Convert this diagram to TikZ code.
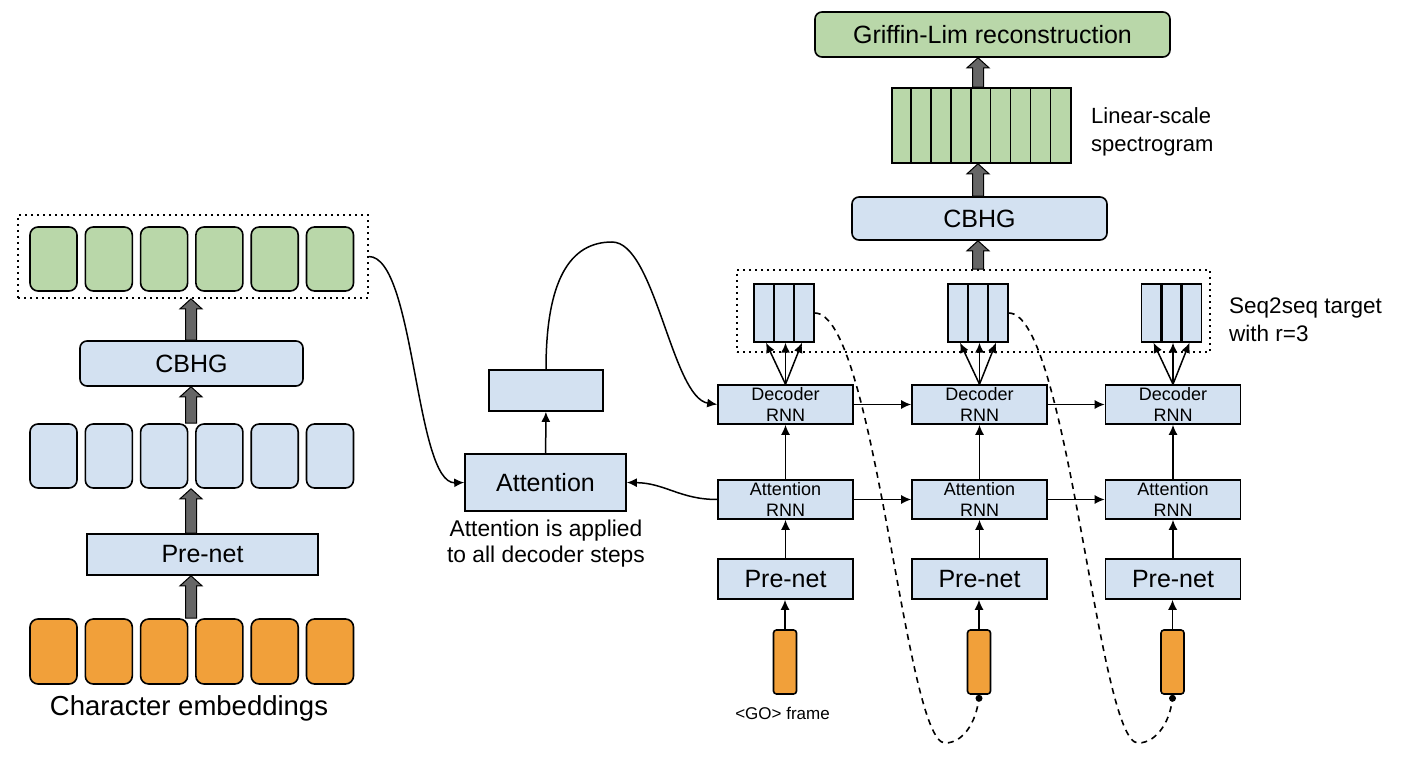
\documentclass[tikz,border=0pt]{standalone}
\usepackage{fontspec}
\setmainfont{Liberation Sans}
\usetikzlibrary{arrows.meta,calc}
\definecolor{bluefill}{HTML}{D3E1F1}
\definecolor{greenfill}{HTML}{B9D7A9}
\definecolor{orangefill}{HTML}{F1A03A}
\definecolor{arrowgray}{HTML}{666666}
\newcommand\fatarrow[2]{\filldraw[fatarr] let \p1=(#1), \p2=(#2) in
  (\x1-5.5pt,\y1) -- (\x1-5.5pt,\y2-10pt) -- (\x1-11pt,\y2-10pt) -- (\x1,\y2) --
  (\x1+11pt,\y2-10pt) -- (\x1+5.5pt,\y2-10pt) -- (\x1+5.5pt,\y1) -- cycle;}
\begin{document}
\begin{tikzpicture}[x=1pt,y=-1pt,
  lw/.style={line width=1.6pt},
  bbox/.style={draw=black, line width=1.6pt, fill=bluefill, inner sep=0pt},
  rbox/.style={bbox, rounded corners=7pt},
  gbox/.style={bbox, fill=greenfill, rounded corners=8pt, minimum width=47pt, minimum height=64pt},
  ebox/.style={bbox, rounded corners=8pt, minimum width=47pt, minimum height=64pt},
  obox/.style={bbox, fill=orangefill, rounded corners=8pt, minimum width=47pt, minimum height=65pt},
  goframe/.style={bbox, fill=orangefill, rounded corners=3pt, minimum width=23pt, minimum height=64pt},
  rnn/.style={bbox, minimum width=135pt, minimum height=39pt, font=\fontsize{18}{21}\selectfont, align=center},
  prenet/.style={bbox, minimum width=135pt, minimum height=40pt, font=\fontsize{25}{30}\selectfont},
  seqbox/.style={bbox, line width=1.4pt, minimum width=60pt, minimum height=58pt},
  dotbox/.style={draw=black, line width=1.7pt, dash pattern=on 1.7pt off 4.3pt, inner sep=0pt},
  conn/.style={line width=1.5pt, -{Latex[length=10pt,width=9pt]}},
  fatarr/.style={fill=arrowgray, draw=black, line width=1pt},
  bigtext/.style={font=\fontsize{25}{30}\selectfont},
]
\useasboundingbox (0,0) rectangle (1406,762);

% ---------------- Encoder (left) ----------------
\node[dotbox, minimum width=350pt, minimum height=83pt] (encout) at (193,256.5) {};
\foreach \i in {0,...,5} {
  \node[gbox] (g\i) at ({53.5+55.3*\i},259) {};
  \node[ebox] (e\i) at ({53.5+55.3*\i},456) {};
  \node[obox] (o\i) at ({53.5+55.3*\i},651.5) {};
}
\node[rbox, minimum width=223pt, minimum height=45pt, bigtext] (cbhgL) at (191.5,363.5) {CBHG};
\node[bbox, minimum width=231pt, minimum height=41pt, bigtext] (preL) at (202.5,554.5) {Pre-net};
\node[anchor=base, inner sep=0pt, font=\fontsize{27.5}{33}\selectfont] (charlbl) at (189,715) {Character embeddings};

\coordinate (xa) at (191,0);
\fatarrow{xa |- o2.north}{xa |- preL.south}
\fatarrow{xa |- preL.north}{xa |- e2.south}
\fatarrow{xa |- e2.north}{xa |- cbhgL.south}
\fatarrow{xa |- cbhgL.north}{xa |- encout.south}

% ---------------- Attention ----------------
\node[bbox, minimum width=161pt, minimum height=57pt, bigtext] (attn) at (545.5,482.5) {Attention};
\node[bbox, minimum width=114pt, minimum height=41pt] (ctx) at (546,390.5) {};
\node[align=center, anchor=north, inner sep=0pt, font=\fontsize{22.8}{26}\selectfont] (attnlbl) at (546,520) {Attention is applied\\to all decoder steps};

% ---------------- Decoder columns ----------------
\node[dotbox, minimum width=473pt, minimum height=82pt] (tgt) at (973.5,311) {};
\foreach \c/\x in {1/785.5, 2/979.5, 3/1173} {
  \node[rnn] (dec\c) at (\x,404.5) {Decoder\\RNN};
  \node[rnn] (ar\c) at (\x,499.5) {Attention\\RNN};
  \node[prenet] (pre\c) at (\x,579) {Pre-net};
  \node[goframe] (fr\c) at (\x-0.5,662) {};
  \node[seqbox] (seq\c) at (\x-1.5,313) {};
  \draw[line width=2.8pt] ([xshift=-10pt]seq\c.north) -- ([xshift=-10pt]seq\c.south);
  \draw[line width=2.8pt] ([xshift=10pt]seq\c.north) -- ([xshift=10pt]seq\c.south);
  \draw[conn] (fr\c.north) -- (fr\c.north |- pre\c.south);
  \draw[conn] (pre\c) -- (ar\c);
  \draw[conn] (ar\c) -- (dec\c);
  \draw[conn] (dec\c.north) -- ([xshift=-18pt]seq\c.south);
  \draw[conn] (dec\c.north) -- (seq\c.south -| dec\c.north);
  \draw[conn] (dec\c.north) -- ([xshift=18pt]seq\c.south);
}
\draw[conn] (dec1) -- (dec2);
\draw[conn] (dec2) -- (dec3);
\draw[conn] (ar1) -- (ar2);
\draw[conn] (ar2) -- (ar3);

\node[anchor=base, inner sep=0pt, font=\fontsize{17}{20}\selectfont] (golbl) at (782.5,719) {<GO> frame};
\node[anchor=west, align=left, inner sep=0pt, font=\fontsize{22.5}{28}\selectfont] (seqlbl) at (1229,320) {Seq2seq target\\with r=3};

% ---------------- Post-processing (top right) ----------------
\node[rbox, minimum width=255pt, minimum height=43pt, bigtext] (cbhgR) at (979.5,218.5) {CBHG};
\node[bbox, fill=greenfill, minimum width=179pt, minimum height=75pt] (spec) at (981.5,125.5) {};
\foreach \k in {1,...,8} {
  \draw[lw] ($(spec.north west)+(19.89*\k,0)$) -- ($(spec.south west)+(19.89*\k,0)$);
}
\node[rbox, fill=greenfill, minimum width=355pt, minimum height=45pt, bigtext] (gl) at (992.5,34.5) {Griffin-Lim reconstruction};
\node[anchor=west, align=left, inner sep=0pt, font=\fontsize{22}{28}\selectfont] (linlbl) at (1091,132) {Linear-scale\\spectrogram};

\coordinate (xb) at (978,0);
\fatarrow{xb |- tgt.north}{xb |- cbhgR.south}
\fatarrow{xb |- cbhgR.north}{xb |- spec.south}
\fatarrow{xb |- spec.north}{xb |- gl.south}

% ---------------- Curved connectors ----------------
\draw[conn] (encout.east) .. controls (415,257) and (415,484) .. (attn.west);
\draw[conn] (attn) -- (ctx);
\draw[conn] (ctx.north) .. controls (546,280) and (570,242) .. (612,242)
   .. controls (655,242) and (672,398) .. (dec1.west);
\draw[conn] (ar1.west) .. controls (680,499.5) and (665,483) .. (attn.east);

\draw[lw, dash pattern=on 6pt off 5pt] (seq1.east) .. controls (875,313) and (905,743) .. (945,743)
   .. controls (965,743) and (978,718) .. (fr2.south);
\fill ([yshift=-3.5pt]fr2.south) circle (3.5pt);
\draw[lw, dash pattern=on 6pt off 5pt] (seq2.east) .. controls (1068,313) and (1098,743) .. (1138,743)
   .. controls (1158,743) and (1172,718) .. (fr3.south);
\fill ([yshift=-3.5pt]fr3.south) circle (3.5pt);
\end{tikzpicture}
\end{document}
